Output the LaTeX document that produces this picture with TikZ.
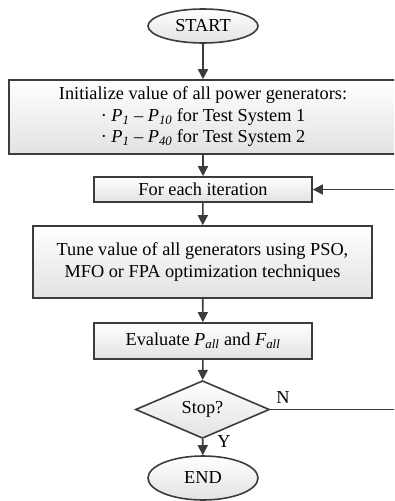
\documentclass[tikz,border=0pt]{standalone}
\usepackage{fontspec}
\setmainfont{Liberation Serif}
\usetikzlibrary{shapes.geometric,arrows.meta,shadings}
\definecolor{edge}{HTML}{3C3C3C}
\definecolor{fillbot}{HTML}{E2E2E2}
\newcommand{\fsz}{\fontsize{18.3}{21.5}\selectfont}
\newcommand{\Psub}[2]{\textit{#1}\textsubscript{\textit{#2}}}
\begin{document}
\begin{tikzpicture}[x=1pt,y=-1pt,
  box/.style={draw=edge, line width=1.6pt, top color=white, bottom color=fillbot,
    rectangle, inner sep=0pt, align=center, font=\fsz},
  oval/.style={draw=edge, line width=1.6pt, top color=white, bottom color=fillbot,
    ellipse, inner sep=0pt, minimum width=110pt, font=\fsz},
  decide/.style={draw=edge, line width=1.6pt, top color=white, bottom color=fillbot,
    diamond, inner sep=0pt, minimum width=134pt, minimum height=47pt, font=\fsz},
  arr/.style={draw=edge, line width=1.6pt, -{Triangle[length=10pt,width=10pt]}},
  plain/.style={draw=edge, line width=1.6pt},
  lbl/.style={font=\fsz, inner sep=0pt}]
\useasboundingbox (0,0) rectangle (394,501);
\clip (0,0) rectangle (394,501);

\node[oval, minimum height=34pt] (start) at (203,26) {START};
\node[box, minimum width=388pt, minimum height=74pt] (init) at (203,117)
  {Initialize value of all power generators:\\
   · \Psub{P}{1} – \Psub{P}{10} for Test System 1\\
   · \Psub{P}{1} – \Psub{P}{40} for Test System 2};
\node[box, minimum width=218pt, minimum height=25pt] (iter) at (203,189.5) {For each iteration};
\node[box, minimum width=339pt, minimum height=72pt] (tune) at (202.5,262)
  {Tune value of all generators using PSO,\\ MFO or FPA optimization techniques};
\node[box, minimum width=218pt, minimum height=36pt] (eval) at (203,341)
  {Evaluate \Psub{P}{all} and \Psub{F}{all}};
\node[decide] (stop) at (202.5,409.5) {Stop?};
\node[oval, minimum height=44pt] (end) at (203,478) {END};

\node[lbl] (nlab) at (283,398) {N};
\node[lbl] (ylab) at (224,442) {Y};

\coordinate (fb) at (400,189.5);
\coordinate (nr) at (400,409.5);

\draw[arr] (start) -- (init);
\draw[arr] (init) -- (iter);
\draw[arr] (iter) -- (tune);
\draw[arr] (tune) -- (eval);
\draw[arr] (eval) -- (stop);
\draw[arr] (stop) -- (end);
\draw[plain] (stop.east) -- (nr);
\draw[arr] (fb) -- (iter.east);
\end{tikzpicture}
\end{document}
